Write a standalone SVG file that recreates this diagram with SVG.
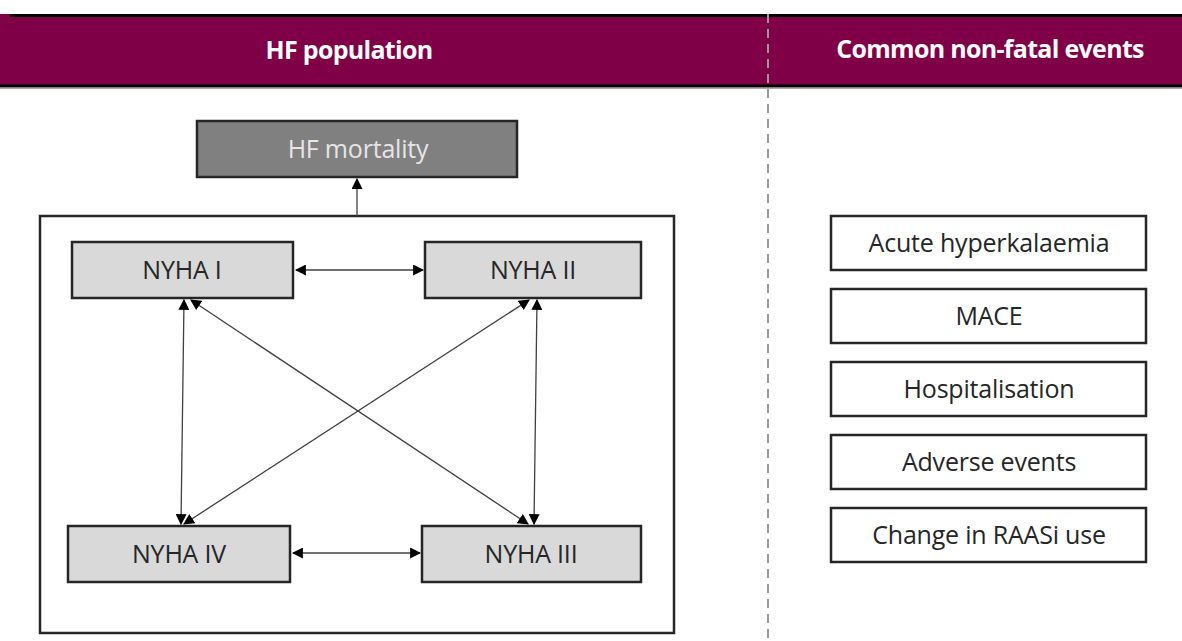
<svg xmlns="http://www.w3.org/2000/svg" width="1182" height="641" viewBox="0 0 1182 641">
<defs>
<style>
.hdr{font-family:"Open Sans","Liberation Sans",sans-serif;font-weight:bold;font-size:25px;fill:#ffffff;text-anchor:middle;letter-spacing:-0.7px}
.lbl{font-family:"Open Sans","Liberation Sans",sans-serif;font-size:25px;fill:#262626;text-anchor:middle;letter-spacing:-0.2px}
.nyha{fill:#d9d9d9;stroke:#262626;stroke-width:2.5}
.ev{fill:#ffffff;stroke:#262626;stroke-width:2.5}
.con{stroke:#404040;stroke-width:1.3;fill:none}
</style>
<marker id="ah" viewBox="0 0 10 10" refX="9" refY="5" markerWidth="11" markerHeight="11" markerUnits="userSpaceOnUse" orient="auto-start-reverse">
<path d="M0,0 L10,5 L0,10 z" fill="#000"/>
</marker>
</defs>
<rect width="1182" height="641" fill="#ffffff"/>
<g id="header">
<rect x="0" y="14" width="1182" height="73" fill="#800048"/>
<line x1="10" y1="15.5" x2="1182" y2="15.5" stroke="#000" stroke-width="3"/>
<line x1="0" y1="86" x2="1182" y2="86" stroke="#000" stroke-width="3"/>
<line x1="0" y1="88.5" x2="1182" y2="88.5" stroke="#aaaaaa" stroke-width="1"/>
<text class="hdr" x="349" y="59">HF population</text>
<text class="hdr" x="990" y="58">Common non-fatal events</text>
</g>
<line x1="768" y1="14" x2="768" y2="641" stroke="#9a9a9a" stroke-width="2" stroke-dasharray="9,6"/>
<g id="outer">
<rect x="40" y="216" width="634" height="417" fill="none" stroke="#262626" stroke-width="2.5"/>
</g>
<g id="mortality">
<rect x="197" y="121" width="320" height="56" fill="#808080" stroke="#262626" stroke-width="2.5"/>
<text class="lbl" x="358" y="158" style="fill:#e6e6e6">HF mortality</text>
</g>
<g id="nyha1">
<rect class="nyha" x="72" y="242" width="221" height="56"/>
<text class="lbl" x="182" y="279">NYHA I</text>
</g>
<g id="nyha2">
<rect class="nyha" x="425" y="242" width="216" height="56"/>
<text class="lbl" x="533" y="279">NYHA II</text>
</g>
<g id="nyha4">
<rect class="nyha" x="68" y="526" width="222" height="56"/>
<text class="lbl" x="179" y="563">NYHA IV</text>
</g>
<g id="nyha3">
<rect class="nyha" x="422" y="526" width="219" height="56"/>
<text class="lbl" x="531" y="563">NYHA III</text>
</g>
<g id="ev1"><rect class="ev" x="831" y="216" width="315" height="54"/><text class="lbl" x="989" y="252">Acute hyperkalaemia</text></g>
<g id="ev2"><rect class="ev" x="831" y="289" width="315" height="54"/><text class="lbl" x="989" y="325">MACE</text></g>
<g id="ev3"><rect class="ev" x="831" y="362" width="315" height="54"/><text class="lbl" x="989" y="398">Hospitalisation</text></g>
<g id="ev4"><rect class="ev" x="831" y="435" width="315" height="54"/><text class="lbl" x="989" y="471">Adverse events</text></g>
<g id="ev5"><rect class="ev" x="831" y="508" width="315" height="54"/><text class="lbl" x="989" y="544">Change in RAASi use</text></g>
<g id="connectors">
<line class="con" x1="357" y1="216" x2="357" y2="179" marker-end="url(#ah)"/>
<line class="con" x1="296" y1="270" x2="423" y2="270" marker-start="url(#ah)" marker-end="url(#ah)"/>
<line class="con" x1="293" y1="553" x2="420" y2="553" marker-start="url(#ah)" marker-end="url(#ah)"/>
<line class="con" x1="184" y1="300" x2="181" y2="524" marker-start="url(#ah)" marker-end="url(#ah)"/>
<line class="con" x1="537" y1="300" x2="534" y2="524" marker-start="url(#ah)" marker-end="url(#ah)"/>
<line class="con" x1="191" y1="300" x2="528" y2="524" marker-start="url(#ah)" marker-end="url(#ah)"/>
<line class="con" x1="529" y1="300" x2="184" y2="524" marker-start="url(#ah)" marker-end="url(#ah)"/>
</g>
</svg>
